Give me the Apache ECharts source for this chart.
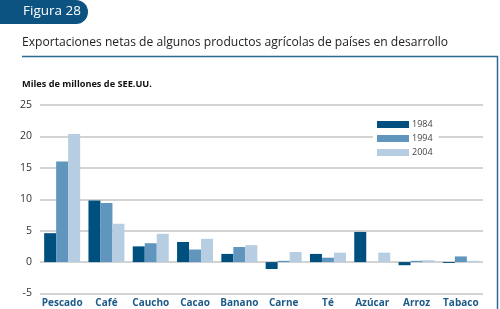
<!doctype html>
<html lang="es">
<head>
<meta charset="UTF-8">
<title>Figura 28</title>
<script src="https://cdn.jsdelivr.net/npm/echarts@6/dist/echarts.min.js"></script>
<style>
  html, body { margin: 0; padding: 0; background: #fff; }
  #main { width: 500px; height: 309px; }
</style>
</head>
<body>
<div id="main"></div>
<script>
// datos (miles de millones de $EE.UU.)
var productos = ['Pescado', 'Café', 'Caucho', 'Cacao', 'Banano', 'Carne', 'Té', 'Azúcar', 'Arroz', 'Tabaco'];
var anios = ['1984', '1994', '2004'];
var v1984 = [4.6, 9.8, 2.5, 3.2, 1.3, -1.1, 1.3, 4.8, -0.5, -0.15];
var v1994 = [16.0, 9.4, 3.0, 2.0, 2.4, 0.2, 0.7, 0.0, 0.2, 0.9];
var v2004 = [20.4, 6.1, 4.5, 3.7, 2.7, 1.6, 1.5, 1.5, 0.3, 0.2];
var colores = ['#00507f', '#6096bd', '#b6cde2'];

var font = '"Open Sans", "Noto Sans", sans-serif';

function serie(nombre, datos, i) {
    return {
        name: nombre,
        type: 'bar',
        data: datos,
        barWidth: 12,
        barGap: '0%',
        itemStyle: { color: colores[i] }
    };
}

var myChart = echarts.init(document.getElementById('main'));
var option = {
    animation: false,
    textStyle: { fontFamily: font },
    graphic: [
        // etiqueta "Figura 28"
        { type: 'rect', shape: { x: -20, y: 0, width: 108, height: 24, r: [0, 12, 12, 0] },
          style: { fill: '#0c5381' } },
        { type: 'text', left: 23, top: 4,
          style: { text: 'Figura 28', fill: '#fff', font: '13.5px ' + font } },
        // marco
        { type: 'line', shape: { x1: 22, y1: 56.5, x2: 498, y2: 56.5 },
          style: { stroke: '#2a6a94', lineWidth: 1.5 } },
        { type: 'line', shape: { x1: 497.5, y1: 56, x2: 497.5, y2: 309 },
          style: { stroke: '#2a6a94', lineWidth: 1.5 } },
        { type: 'text', left: 22, top: 37,
          style: { text: 'Exportaciones netas de algunos productos agrícolas de países en desarrollo',
                   fill: '#222', font: '12.1px ' + font } },
        { type: 'text', left: 22, top: 80,
          style: { text: 'Miles de millones de SEE.UU.', fill: '#111', font: 'bold 9.2px ' + font } }
    ],
    legend: {
        data: anios,
        orient: 'vertical',
        left: 373,
        top: 118,
        itemWidth: 32,
        itemHeight: 7,
        itemGap: 5,
        padding: [2, 6, 2, 4],
        backgroundColor: '#fff',
        icon: 'rect',
        textStyle: { fontSize: 9, color: '#444', padding: [0, 0, 0, -2] }
    },
    grid: { left: 40, right: 17, top: 105, bottom: 15.5 },
    xAxis: {
        type: 'category',
        data: productos,
        axisLine: { show: false },
        axisTick: { show: false },
        axisLabel: { interval: 0, color: '#1c5a88', fontWeight: 'bold', fontSize: 10, margin: 5 }
    },
    yAxis: {
        type: 'value',
        min: -5,
        max: 25,
        interval: 5,
        axisLine: { show: false },
        axisTick: { show: false },
        axisLabel: { color: '#333', fontSize: 10.5, margin: 8 },
        splitLine: { lineStyle: { color: '#c4c4c4', width: 1.5 } }
    },
    series: [
        serie(anios[0], v1984, 0),
        serie(anios[1], v1994, 1),
        serie(anios[2], v2004, 2)
    ]
};
myChart.setOption(option);
</script>
</body>
</html>
